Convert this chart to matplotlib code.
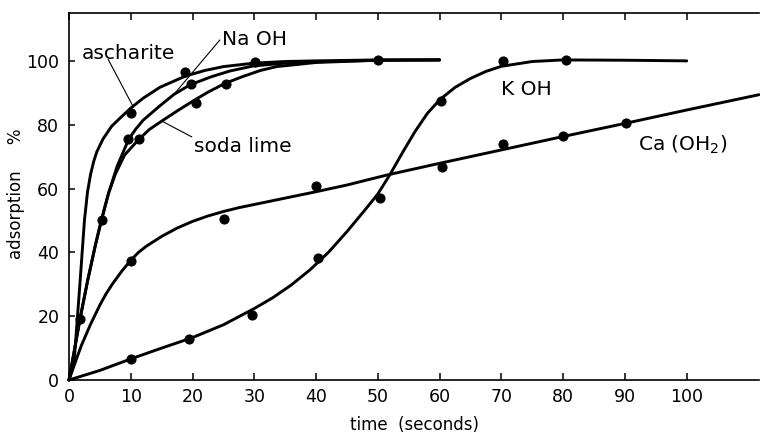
import matplotlib
matplotlib.use("Agg")
import matplotlib.pyplot as plt

# ---- data (time in seconds, adsorption %) ----
asch_curve_x = [0, 0.8, 1.8, 2.5, 3, 3.5, 4, 4.5, 5.5, 6.9, 8.5, 10, 12, 14.7, 18.8, 22, 25, 30, 35, 40, 50, 60]
asch_curve_y = [0, 5, 31, 50, 59, 64.5, 68.5, 71.5, 75.5, 79.5, 82.5, 85.2, 88.3, 91.7, 95.2, 97, 98.2, 99.3, 99.8, 100, 100.3, 100.3]
asch_pts_x = [10, 18.8, 30.1, 50]
asch_pts_y = [83.8, 96.5, 99.7, 100.4]

naoh_curve_x = [0, 1.8, 3, 4.3, 5.3, 6.4, 7.8, 9.65, 10.8, 12, 14.7, 17, 19.6, 23, 26, 29.8, 35, 40, 50, 60]
naoh_curve_y = [0, 19.3, 31, 42.5, 50.5, 58.5, 67, 75.4, 78.6, 81.4, 85.9, 89.5, 92.5, 95, 96.8, 98.4, 99.3, 99.7, 100.2, 100.3]
naoh_pts_x = [1.7, 5.3, 9.6, 19.7]
naoh_pts_y = [19, 50, 75.4, 92.6]

soda_curve_x = [0, 1.8, 3, 4.3, 5.3, 6.4, 7.5, 9, 11.2, 13, 15.3, 17.5, 20.4, 22.5, 25.2, 28, 31, 33.6, 40, 50, 60]
soda_curve_y = [0, 19.3, 31, 42.5, 50.5, 58.5, 64.5, 70.5, 75.2, 78.5, 81.5, 84.3, 87.8, 90.2, 92.9, 95, 97, 98.2, 99.5, 100.2, 100.3]
soda_pts_x = [11.3, 20.6, 25.4]
soda_pts_y = [75.4, 86.8, 92.7]

koh_curve_x = [0, 5, 10, 15, 20, 25, 30, 33, 36, 39, 42, 45, 48, 50, 52, 54, 56, 58, 60, 62.5, 65, 67.5, 70, 75, 80, 90, 100]
koh_curve_y = [0, 3, 6.6, 10, 13.3, 17.3, 22.4, 25.8, 29.8, 34.5, 40, 46.5, 53.5, 58.3, 64.5, 71.3, 77.8, 83.5, 87.8, 91.7, 94.5, 96.7, 98.3, 99.8, 100.3, 100.2, 100]
koh_pts_x = [10.1, 19.5, 29.7, 40.3, 50.3, 60.2, 70.2, 80.4]
koh_pts_y = [6.5, 13, 20.4, 38.3, 57, 87.4, 99.9, 100.4]

ca_curve_x = [0, 1, 2, 3.5, 5, 6, 7, 8.5, 10, 11.2, 12.5, 15, 17.5, 20, 22.5, 25, 27.5, 30, 35, 40, 45, 51.4, 60, 70, 80, 90, 100, 111.7]
ca_curve_y = [0, 5.5, 10.8, 17.5, 23.5, 27, 30, 34, 37.5, 39.9, 41.9, 45, 47.6, 49.7, 51.4, 52.8, 54, 55, 57, 59, 61.1, 64.2, 67.9, 72.1, 76.3, 80.4, 84.6, 89.4]
ca_pts_x = [10, 25.1, 40, 60.4, 70.2, 79.9, 90.1]
ca_pts_y = [37.3, 50.6, 60.8, 66.8, 73.8, 76.4, 80.6]

xticks = [0, 10, 20, 30, 40, 50, 60, 70, 80, 90, 100]
yticks = [0, 20, 40, 60, 80, 100]

plt.rcParams['font.family'] = ['DejaVu Sans']

fig = plt.figure(figsize=(7.6, 4.34), dpi=100)
ax = fig.add_axes([69 / 760, 1 - 380 / 434, (759 - 69) / 760, (380 - 13) / 434])

lw = 2.1
ms = 6.3
for cx, cy, px, py in [
    (asch_curve_x, asch_curve_y, asch_pts_x, asch_pts_y),
    (naoh_curve_x, naoh_curve_y, naoh_pts_x, naoh_pts_y),
    (soda_curve_x, soda_curve_y, soda_pts_x, soda_pts_y),
    (koh_curve_x, koh_curve_y, koh_pts_x, koh_pts_y),
    (ca_curve_x, ca_curve_y, ca_pts_x, ca_pts_y),
]:
    ax.plot(cx, cy, color='black', lw=lw, solid_joinstyle='round', solid_capstyle='round', clip_on=False)
    ax.plot(px, py, 'o', color='black', ms=ms, clip_on=False)

# labels with pointer lines
fs = 14.5
ax.text(2.1, 100.7, 'ascharite', fontsize=fs, va='baseline', ha='left')
ax.plot([6.36, 10.4], [100.4, 85.6], color='black', lw=0.8)
ax.text(24.7, 104.9, 'Na OH', fontsize=fs, va='baseline', ha='left')
ax.plot([24.4, 16.9], [106.5, 89.3], color='black', lw=0.8)
ax.text(20.3, 71.5, 'soda lime', fontsize=fs, va='baseline', ha='left')
ax.plot([19.85, 15.26], [76.2, 80.9], color='black', lw=0.8)
ax.text(70.0, 89.4, 'K OH', fontsize=fs, va='baseline', ha='left')
ax.text(92.1, 72.0, 'Ca (OH$_2$)', fontsize=fs, va='baseline', ha='left')

ax.set_xlim(0, 111.7)
ax.set_ylim(0, 115)
ax.set_xticks(xticks)
ax.set_yticks(yticks)
ax.tick_params(axis='x', direction='in', top=True, bottom=True, length=5, width=1.1,
               labelsize=12.5, pad=6)
ax.tick_params(axis='y', direction='in', left=True, right=False, length=4, width=1.1,
               labelsize=12.5, pad=7)
for s in ['left', 'top', 'bottom']:
    ax.spines[s].set_linewidth(1.2)
ax.spines['right'].set_visible(False)

fig.text(414 / 760, 1 - 425 / 434, 'time  (seconds)', fontsize=12, ha='center', va='center')
fig.text(16 / 760, 1 - 194 / 434, 'adsorption     %', fontsize=12, rotation=90,
         ha='center', va='center')

fig.savefig('out.png', dpi=100)
